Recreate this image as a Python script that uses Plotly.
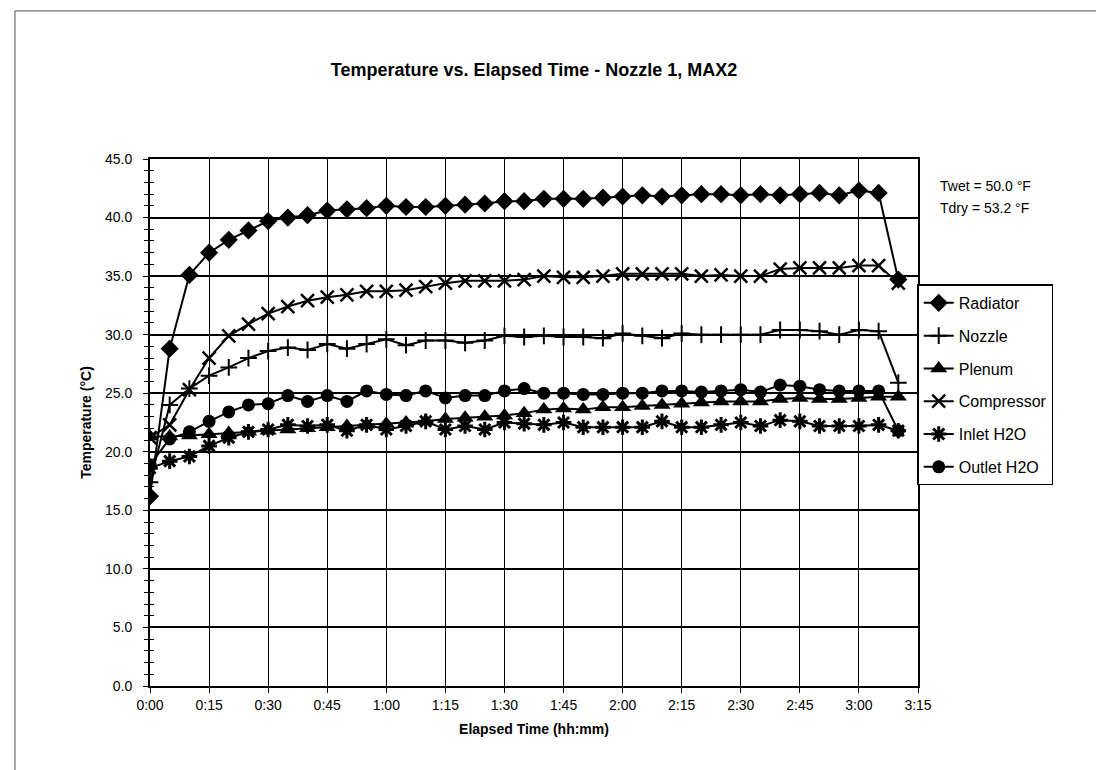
import plotly.graph_objects as go

# elapsed time in minutes
time_min = [0, 5, 10, 15, 20, 25, 30, 35, 40, 45, 50, 55, 60, 65, 70, 75, 80, 85, 90, 95,
            100, 105, 110, 115, 120, 125, 130, 135, 140, 145, 150, 155, 160, 165, 170, 175,
            180, 185, 190]

radiator = [16.2, 28.8, 35.1, 37.0, 38.1, 38.9, 39.7, 40.0, 40.2, 40.6, 40.7, 40.8, 41.0,
            40.9, 40.9, 41.0, 41.1, 41.2, 41.4, 41.4, 41.6, 41.6, 41.6, 41.7, 41.8, 41.9,
            41.8, 41.9, 42.0, 42.0, 41.9, 42.0, 41.9, 42.0, 42.1, 41.9, 42.3, 42.1, 34.7]
nozzle = [17.4, 24.0, 25.4, 26.5, 27.2, 28.0, 28.6, 28.9, 28.7, 29.2, 28.8, 29.2, 29.6,
          29.1, 29.5, 29.5, 29.3, 29.5, 29.9, 29.8, 29.9, 29.8, 29.8, 29.7, 30.1, 29.9,
          29.7, 30.1, 30.0, 30.0, 30.0, 30.0, 30.4, 30.4, 30.3, 30.0, 30.4, 30.3, 25.9]
plenum = [21.3, 21.3, 21.4, 21.5, 21.6, 21.7, 21.8, 21.9, 22.0, 22.1, 22.2, 22.3, 22.4,
          22.5, 22.6, 22.8, 22.9, 23.0, 23.1, 23.3, 23.6, 23.7, 23.6, 23.8, 23.8, 23.9,
          24.0, 24.1, 24.2, 24.3, 24.3, 24.3, 24.5, 24.6, 24.5, 24.5, 24.6, 24.7, 24.7]
compressor = [21.2, 22.3, 25.3, 28.0, 29.9, 30.9, 31.8, 32.4, 32.9, 33.2, 33.4, 33.7, 33.7,
              33.8, 34.1, 34.4, 34.6, 34.6, 34.6, 34.7, 35.0, 34.9, 34.9, 35.0, 35.2, 35.2,
              35.2, 35.2, 35.0, 35.1, 35.0, 35.0, 35.6, 35.7, 35.7, 35.7, 35.9, 35.9, 34.4]
inlet_h2o = [18.6, 19.2, 19.6, 20.5, 21.2, 21.7, 21.9, 22.3, 22.2, 22.3, 21.8, 22.3, 21.9,
             22.2, 22.6, 21.9, 22.2, 21.9, 22.5, 22.4, 22.3, 22.5, 22.1, 22.1, 22.1, 22.1,
             22.6, 22.1, 22.1, 22.3, 22.5, 22.2, 22.7, 22.6, 22.2, 22.2, 22.2, 22.3, 21.8]
outlet_h2o = [18.9, 21.1, 21.7, 22.6, 23.4, 24.0, 24.1, 24.8, 24.3, 24.8, 24.3, 25.2, 24.9,
              24.8, 25.2, 24.6, 24.8, 24.8, 25.2, 25.4, 25.0, 25.0, 24.9, 24.9, 25.0, 25.0,
              25.2, 25.2, 25.1, 25.2, 25.3, 25.1, 25.7, 25.6, 25.3, 25.2, 25.2, 25.2, 21.8]

tick_vals = [0, 15, 30, 45, 60, 75, 90, 105, 120, 135, 150, 165, 180, 195]
tick_text = ['0:00', '0:15', '0:30', '0:45', '1:00', '1:15', '1:30', '1:45', '2:00',
             '2:15', '2:30', '2:45', '3:00', '3:15']

FONT = 'Arial, Liberation Sans, sans-serif'

series = [
    ('Radiator', radiator, dict(symbol='diamond', size=14)),
    ('Nozzle', nozzle, dict(symbol='cross-thin', size=12, line=dict(width=2, color='black'))),
    ('Plenum', plenum, dict(symbol='triangle-up', size=15)),
    ('Compressor', compressor, dict(symbol='x-thin', size=13, line=dict(width=2.5, color='black'))),
    ('Inlet H2O', inlet_h2o, dict(symbol='asterisk', size=13, line=dict(width=3, color='black'))),
    ('Outlet H2O', outlet_h2o, dict(symbol='circle', size=13)),
]

traces = []
for name, vals, mk in series:
    mk['color'] = 'black'
    traces.append(go.Scatter(x=time_min, y=vals, mode='lines+markers', name=name,
                             legendgroup=name,
                             line=dict(color='black', width=2), marker=mk))

# invisible trace to drive the second y axis (inside ticks -> cross ticks)
traces.append(go.Scatter(x=[0], y=[0], yaxis='y2', mode='markers', showlegend=False,
                         marker=dict(opacity=0), hoverinfo='skip'))

fig = go.Figure(data=traces)
fig.update_layout(
    width=1104, height=770,
    margin=dict(l=142, r=194, t=151, b=92),
    paper_bgcolor='white', plot_bgcolor='white',
    font=dict(family=FONT, color='black', size=14),
    title=dict(text='<b>Temperature vs. Elapsed Time - Nozzle 1, MAX2</b>',
               x=(526) / 1104, xanchor='center', y=1 - 62 / 770, yanchor='middle',
               font=dict(size=18)),
    showlegend=True,
    legend=dict(x=0.999, y=0.762, xanchor='left', yanchor='top',
                bordercolor='black', borderwidth=1.5, bgcolor='white',
                font=dict(size=16), tracegroupgap=9),
    xaxis=dict(range=[0, 195], tickvals=tick_vals, ticktext=tick_text,
               showgrid=True, gridcolor='black', gridwidth=1,
               showline=True, linecolor='black', linewidth=2, mirror=True,
               ticks='outside', ticklen=5, tickcolor='black', zeroline=False,
               title=dict(text='<b>Elapsed Time (hh:mm)</b>', font=dict(size=14), standoff=12),
               tickfont=dict(size=14)),
    yaxis=dict(range=[0, 45], dtick=5, tickformat='.1f',
               showgrid=True, gridcolor='black', gridwidth=1.5,
               showline=True, linecolor='black', linewidth=2, mirror=True,
               ticks='outside', ticklen=5, tickcolor='black', zeroline=False,
               ticklabelstandoff=8,
               minor=dict(dtick=1, ticks='outside', ticklen=4, tickcolor='black', showgrid=False),
               title=dict(text='<b>Temperature (°C)</b>', font=dict(size=14), standoff=10),
               tickfont=dict(size=14)),
    yaxis2=dict(range=[0, 45], dtick=5, overlaying='y', side='left', showgrid=False,
                showticklabels=False, ticks='inside', ticklen=5, tickcolor='black',
                zeroline=False,
                minor=dict(dtick=1, ticks='inside', ticklen=4, tickcolor='black')),
    annotations=[
        dict(text='Twet = 50.0 °F', x=1.026, y=0.9488, xref='paper', yref='paper',
             xanchor='left', yanchor='middle', showarrow=False, font=dict(size=14)),
        dict(text='Tdry = 53.2 °F', x=1.026, y=0.907, xref='paper', yref='paper',
             xanchor='left', yanchor='middle', showarrow=False, font=dict(size=14)),
    ],
    shapes=[
        dict(type='rect', xref='paper', yref='paper', x0=-0.1758, x1=1.2474,
             y0=-0.165, y1=1.281, line=dict(color='#555555', width=1)),
    ],
)

fig.write_html('out.html')
